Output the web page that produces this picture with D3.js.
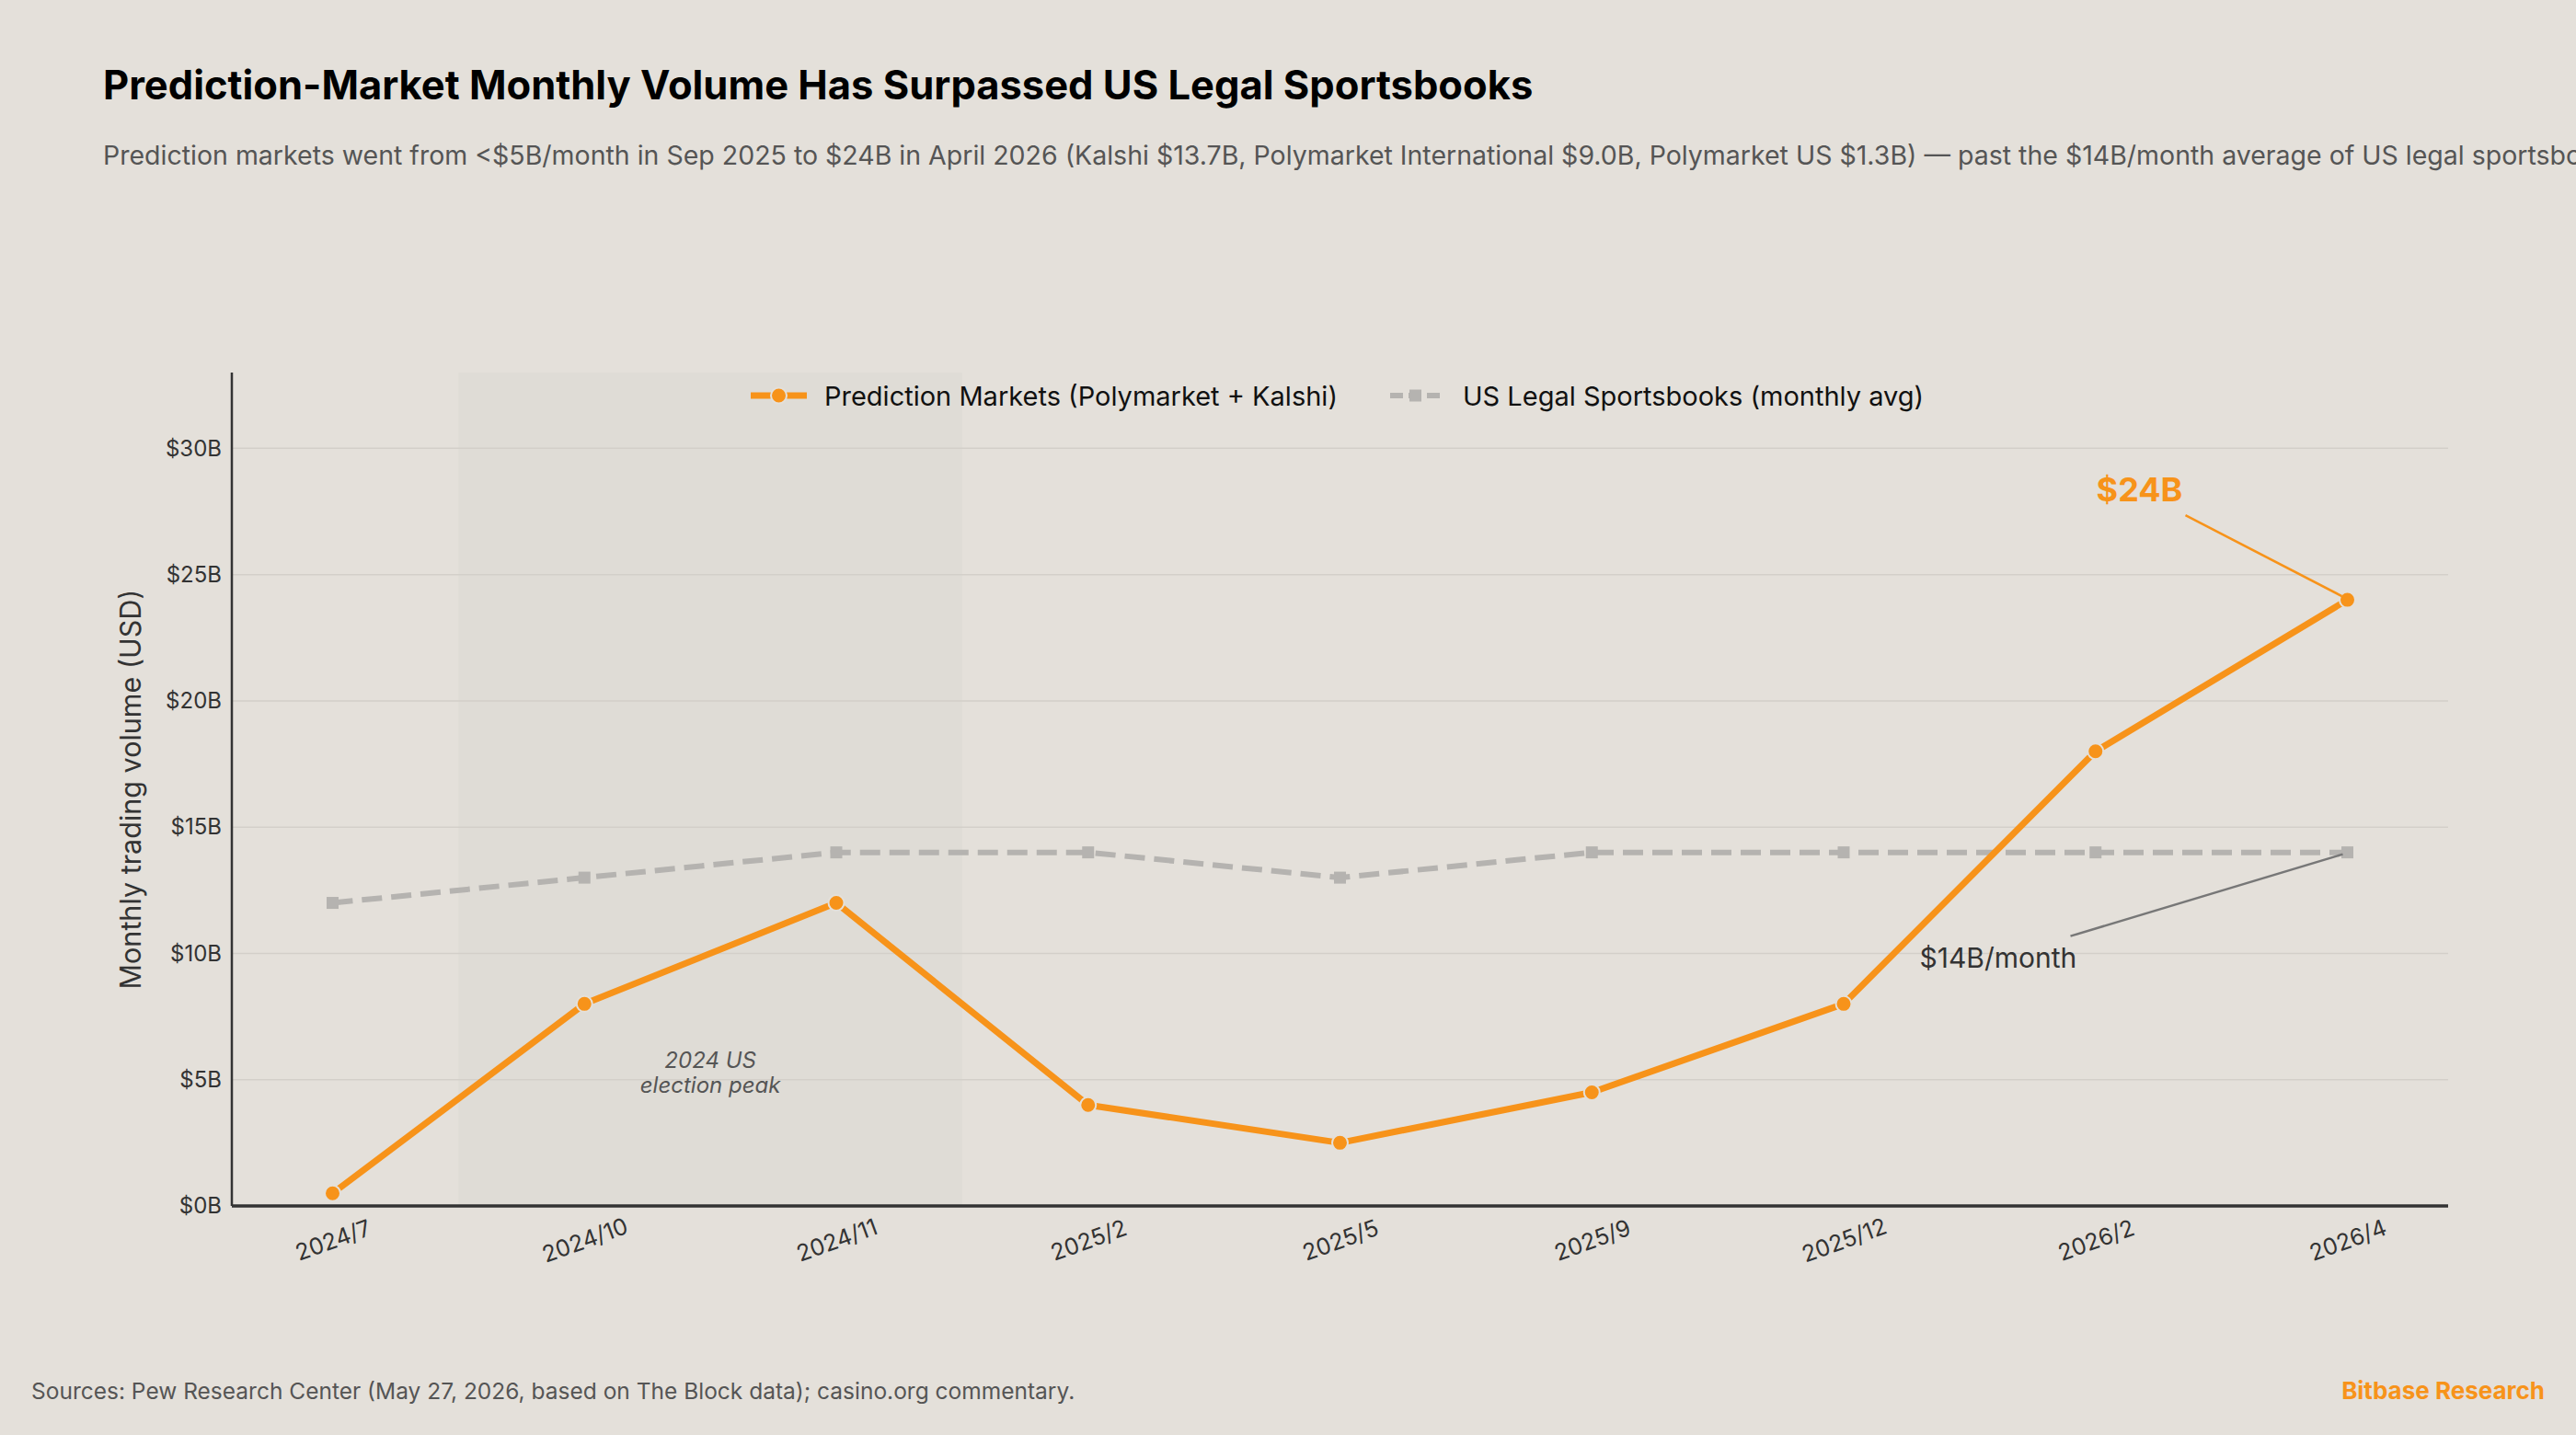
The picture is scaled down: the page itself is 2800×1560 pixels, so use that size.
<!DOCTYPE html>
<html>
<head>
<meta charset="utf-8">
<script src="https://cdn.jsdelivr.net/npm/d3@7"></script>
<style>
  html, body { margin: 0; padding: 0; background: #e4e0da; }
  svg { display: block; font-family: Inter, "Open Sans", sans-serif; }
</style>
</head>
<body>
<svg width="2800" height="1560"></svg>
<script>
// chart data
const months = ["2024/7", "2024/10", "2024/11", "2025/2", "2025/5", "2025/9", "2025/12", "2026/2", "2026/4"];
const predictionVol = [0.5, 8, 12, 4, 2.5, 4.5, 8, 18, 24];
const sportsbookVol = [12, 13, 14, 14, 13, 14, 14, 14, 14];
const yTicks = [0, 5, 10, 15, 20, 25, 30];

const ORANGE = "#f7931a";
const GREY = "#b5b3b0";
const BG = "#e4e0da";

const svg = d3.select("svg");
const width = 2800, height = 1560;

svg.append("rect").attr("width", width).attr("height", height).attr("fill", BG);

const plotL = 252, plotR = 2661, plotT = 405, plotB = 1311;

const x = d3.scalePoint()
    .domain(months)
    .range([plotL, plotR])
    .padding(0.4);

const y = d3.scaleLinear()
    .domain([0, 33])
    .range([plotB, plotT]);

// shaded election band
const bandX0 = (x(months[0]) + x(months[1])) / 2;
const bandX1 = (x(months[2]) + x(months[3])) / 2;
svg.append("rect")
    .attr("x", bandX0)
    .attr("y", plotT)
    .attr("width", bandX1 - bandX0)
    .attr("height", plotB - plotT)
    .attr("fill", "#dfdcd6");

// grid
svg.append("g").selectAll("line")
    .data(yTicks.filter(d => d > 0))
    .enter().append("line")
    .attr("x1", plotL).attr("x2", plotR)
    .attr("y1", d => y(d)).attr("y2", d => y(d))
    .attr("stroke", "#d3cfc9")
    .attr("stroke-width", 1.5);

svg.append("text")
    .attr("x", (bandX0 + bandX1) / 2)
    .attr("y", 1161)
    .attr("text-anchor", "middle")
    .style("font-size", "24px")
    .style("font-style", "italic")
    .style("fill", "#555")
    .text("2024 US");
svg.append("text")
    .attr("x", (bandX0 + bandX1) / 2)
    .attr("y", 1188)
    .attr("text-anchor", "middle")
    .style("font-size", "24px")
    .style("font-style", "italic")
    .style("fill", "#555")
    .text("election peak");

// y axis
const yAxis = svg.append("g")
    .attr("transform", `translate(${plotL},0)`)
    .call(d3.axisLeft(y).tickValues(yTicks).tickSize(0).tickPadding(11).tickFormat(d => `$${d}B`));
yAxis.select(".domain").remove();
yAxis.selectAll("text")
    .style("font-family", "Inter, sans-serif")
    .style("font-size", "24px")
    .style("fill", "#333");

svg.append("line")
    .attr("x1", plotL).attr("x2", plotL)
    .attr("y1", plotT).attr("y2", plotB)
    .attr("stroke", "#333").attr("stroke-width", 2.5);

// x axis
const xAxis = svg.append("g")
    .attr("transform", `translate(0,${plotB})`)
    .call(d3.axisBottom(x).tickSize(0).tickPadding(0));
xAxis.select(".domain").remove();
xAxis.selectAll("text")
    .attr("y", 0)
    .attr("dy", null)
    .attr("text-anchor", "middle")
    .attr("dominant-baseline", "central")
    .attr("transform", "translate(0,37) rotate(-20)")
    .style("font-family", "Inter, sans-serif")
    .style("font-size", "25px")
    .style("fill", "#333");

svg.append("line")
    .attr("x1", plotL).attr("x2", plotR)
    .attr("y1", plotB).attr("y2", plotB)
    .attr("stroke", "#333").attr("stroke-width", 3.5);

// sportsbooks series
const line = d3.line()
    .x((d, i) => x(months[i]))
    .y(d => y(d));

svg.append("path")
    .datum(sportsbookVol)
    .attr("fill", "none")
    .attr("stroke", GREY)
    .attr("stroke-width", 6)
    .attr("stroke-dasharray", "22,10")
    .attr("d", line);

svg.append("g").selectAll("rect")
    .data(sportsbookVol)
    .enter().append("rect")
    .attr("x", (d, i) => x(months[i]) - 6.5)
    .attr("y", d => y(d) - 6.5)
    .attr("width", 13).attr("height", 13)
    .attr("fill", GREY);

// prediction markets series
svg.append("path")
    .datum(predictionVol)
    .attr("fill", "none")
    .attr("stroke", ORANGE)
    .attr("stroke-width", 7)
    .attr("stroke-linejoin", "round")
    .attr("d", line);

svg.append("g").selectAll("circle")
    .data(predictionVol)
    .enter().append("circle")
    .attr("cx", (d, i) => x(months[i]))
    .attr("cy", d => y(d))
    .attr("r", 8.5)
    .attr("fill", ORANGE)
    .attr("stroke", BG)
    .attr("stroke-width", 2);

// annotations
const lastI = months.length - 1;
const px = x(months[lastI]), py = y(predictionVol[lastI]);
svg.append("line")
    .attr("x1", px - 176).attr("y1", py - 92)
    .attr("x2", px - 6).attr("y2", py - 4)
    .attr("stroke", ORANGE).attr("stroke-width", 2.5);
svg.append("text")
    .attr("x", px - 226)
    .attr("y", py - 107)
    .attr("text-anchor", "middle")
    .style("font-size", "36px")
    .style("font-weight", "700")
    .style("fill", ORANGE)
    .text("$24B");

const gx = x(months[lastI]), gy = y(sportsbookVol[lastI]);
svg.append("line")
    .attr("x1", gx - 301).attr("y1", gy + 91)
    .attr("x2", gx - 5).attr("y2", gy + 2)
    .attr("stroke", "#777").attr("stroke-width", 2.5);
svg.append("text")
    .attr("x", gx - 465)
    .attr("y", gy + 125)
    .style("font-size", "30px")
    .style("fill", "#333")
    .text("$14B/month");

// legend
const legend = svg.append("g");
legend.append("line")
    .attr("x1", 816).attr("x2", 877).attr("y1", 430).attr("y2", 430)
    .attr("stroke", ORANGE).attr("stroke-width", 7);
legend.append("circle")
    .attr("cx", 846.5).attr("cy", 430).attr("r", 8.5)
    .attr("fill", ORANGE).attr("stroke", BG).attr("stroke-width", 2);
legend.append("text")
    .attr("x", 896).attr("y", 441)
    .style("font-size", "29px").style("fill", "#111")
    .text("Prediction Markets (Polymarket + Kalshi)");
legend.append("line")
    .attr("x1", 1511).attr("x2", 1566).attr("y1", 430).attr("y2", 430)
    .attr("stroke", GREY).attr("stroke-width", 6).attr("stroke-dasharray", "14,6");
legend.append("rect")
    .attr("x", 1532).attr("y", 423.5).attr("width", 13).attr("height", 13)
    .attr("fill", GREY);
legend.append("text")
    .attr("x", 1590).attr("y", 441)
    .style("font-size", "29px").style("fill", "#111")
    .text("US Legal Sportsbooks (monthly avg)");

// y label
svg.append("text")
    .attr("transform", `translate(153,${(plotT + plotB) / 2}) rotate(-90)`)
    .attr("text-anchor", "middle")
    .style("font-size", "30.5px")
    .style("fill", "#333")
    .text("Monthly trading volume (USD)");

// title + subtitle
svg.append("text")
    .attr("x", 112).attr("y", 108)
    .style("font-size", "43.5px")
    .style("font-weight", "700")
    .style("fill", "#000")
    .text("Prediction-Market Monthly Volume Has Surpassed US Legal Sportsbooks");

svg.append("text")
    .attr("x", 112).attr("y", 179)
    .style("font-size", "28.5px")
    .style("fill", "#555")
    .text("Prediction markets went from <$5B/month in Sep 2025 to $24B in April 2026 (Kalshi $13.7B, Polymarket International $9.0B, Polymarket US $1.3B) — past the $14B/month average of US legal sportsbooks.");

// footer
svg.append("text")
    .attr("x", 34).attr("y", 1521)
    .style("font-size", "24.5px")
    .style("fill", "#555")
    .text("Sources: Pew Research Center (May 27, 2026, based on The Block data); casino.org commentary.");

svg.append("text")
    .attr("x", 2766).attr("y", 1521)
    .attr("text-anchor", "end")
    .style("font-size", "26px")
    .style("font-weight", "700")
    .style("fill", ORANGE)
    .text("Bitbase Research");
</script>
</body>
</html>
